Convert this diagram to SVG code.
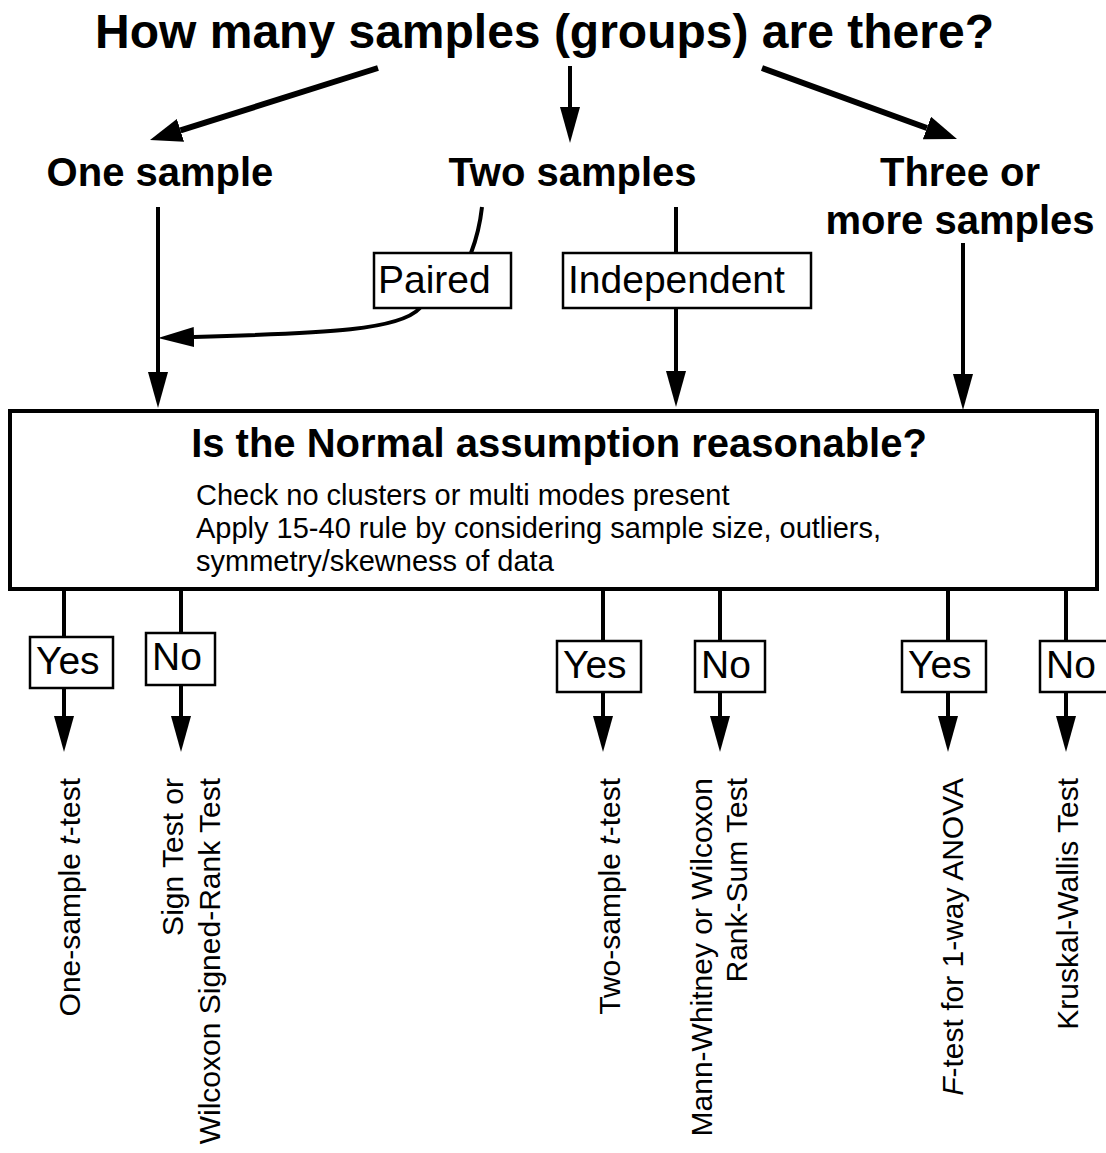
<svg xmlns="http://www.w3.org/2000/svg" width="1106" height="1153" viewBox="0 0 1106 1153">
<style>
text{font-family:"Liberation Sans",Arial,sans-serif;fill:#000}
.h{font-weight:bold;font-size:40px}
.t{font-weight:bold;font-size:48px}
.lbl{font-size:39px}
.body{font-size:29px}
.rot{font-size:30px;text-anchor:end}
.box{fill:#fff;stroke:#000;stroke-width:2.5}
.main{fill:#fff;stroke:#000;stroke-width:4}
.c{fill:none;stroke:#000;stroke-width:4}
.c6{fill:none;stroke:#000;stroke-width:6}
</style>
<defs>
<marker id="ab" markerUnits="userSpaceOnUse" viewBox="0 0 32 24" markerWidth="32" markerHeight="24" refX="0" refY="12" orient="auto"><path d="M0,0 L32,12 L0,24 Z" fill="#000"/></marker>
<marker id="as" markerUnits="userSpaceOnUse" viewBox="0 0 36 20" markerWidth="36" markerHeight="20" refX="0" refY="10" orient="auto"><path d="M0,0 L36,10 L0,20 Z" fill="#000"/></marker>
</defs>
<rect width="1106" height="1153" fill="#fff"/>

<g id="connectors">
<path class="c6" d="M378,68 L180.5,130.4" marker-end="url(#ab)"/>
<path class="c" d="M570,66 V107" marker-end="url(#as)"/>
<path class="c6" d="M762,68 L926.9,128" marker-end="url(#ab)"/>
<path class="c" d="M158,207 V372" marker-end="url(#as)"/>
<path class="c" d="M482,207 C480,225 476,240 471,253"/>
<path class="c" d="M420,308 C400,330 330,333 194,337" marker-end="url(#as)"/>
<path class="c" d="M676,207 V253"/>
<path class="c" d="M676,308 V371" marker-end="url(#as)"/>
<path class="c" d="M963,243 V374" marker-end="url(#as)"/>
<path class="c" d="M64,589 V637"/>
<path class="c" d="M64,688 V716" marker-end="url(#as)"/>
<path class="c" d="M181,589 V633"/>
<path class="c" d="M181,685 V716" marker-end="url(#as)"/>
<path class="c" d="M603,589 V641"/>
<path class="c" d="M603,692 V716" marker-end="url(#as)"/>
<path class="c" d="M720,589 V641"/>
<path class="c" d="M720,692 V716" marker-end="url(#as)"/>
<path class="c" d="M948,589 V641"/>
<path class="c" d="M948,692 V716" marker-end="url(#as)"/>
<path class="c" d="M1066,589 V641"/>
<path class="c" d="M1066,692 V716" marker-end="url(#as)"/>
</g>

<g id="title"><text class="t" x="544.5" y="48" text-anchor="middle">How many samples (groups) are there?</text></g>
<g id="one"><text class="h" x="160" y="186" text-anchor="middle">One sample</text></g>
<g id="two"><text class="h" x="572.5" y="186" text-anchor="middle">Two samples</text></g>
<g id="three"><text class="h" x="960" y="186" text-anchor="middle">Three or</text><text class="h" x="960" y="234" text-anchor="middle">more samples</text></g>

<g id="paired"><rect class="box" x="374" y="253" width="137" height="55"/><text class="lbl" x="378" y="293">Paired</text></g>
<g id="independent"><rect class="box" x="563" y="253" width="248" height="55"/><text class="lbl" x="568" y="293">Independent</text></g>

<g id="normal">
<rect class="main" x="10" y="411" width="1087" height="178"/>
<text class="h" x="559" y="457" text-anchor="middle">Is the Normal assumption reasonable?</text>
<text class="body" x="196" y="505">Check no clusters or multi modes present</text>
<text class="body" x="196" y="538">Apply 15-40 rule by considering sample size, outliers,</text>
<text class="body" x="196" y="571">symmetry/skewness of data</text>
</g>

<g id="yes1"><rect class="box" x="30" y="637" width="83" height="51"/><text class="lbl" x="36" y="674">Yes</text></g>
<g id="no1"><rect class="box" x="146" y="633" width="69" height="52"/><text class="lbl" x="152" y="670">No</text></g>
<g id="yes2"><rect class="box" x="557" y="641" width="84" height="51"/><text class="lbl" x="563" y="678">Yes</text></g>
<g id="no2"><rect class="box" x="695" y="641" width="70" height="51"/><text class="lbl" x="701" y="678">No</text></g>
<g id="yes3"><rect class="box" x="902" y="641" width="84" height="51"/><text class="lbl" x="908" y="678">Yes</text></g>
<g id="no3"><rect class="box" x="1040" y="641" width="70" height="51"/><text class="lbl" x="1046" y="678">No</text></g>

<g id="r1"><text class="rot" transform="translate(80,778) rotate(-90)">One-sample <tspan font-style="italic">t</tspan>-test</text></g>
<g id="r2"><text class="rot" transform="translate(183,778) rotate(-90)">Sign Test or</text><text class="rot" transform="translate(220,778) rotate(-90)">Wilcoxon Signed-Rank Test</text></g>
<g id="r3"><text class="rot" transform="translate(620,778) rotate(-90)">Two-sample <tspan font-style="italic">t</tspan>-test</text></g>
<g id="r4"><text class="rot" transform="translate(712,778) rotate(-90)">Mann-Whitney or Wilcoxon</text><text class="rot" transform="translate(747,778) rotate(-90)">Rank-Sum Test</text></g>
<g id="r5"><text class="rot" transform="translate(963,778) rotate(-90)"><tspan font-style="italic">F</tspan>-test for 1-way ANOVA</text></g>
<g id="r6"><text class="rot" transform="translate(1078,778) rotate(-90)">Kruskal-Wallis Test</text></g>
</svg>
